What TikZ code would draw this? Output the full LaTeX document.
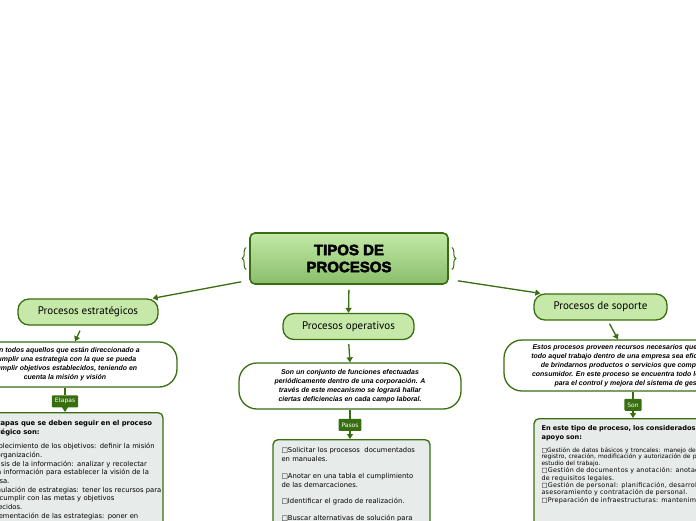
\documentclass[tikz,border=0pt]{standalone}
\usepackage{fontspec}
\setmainfont{DejaVu Sans}
\newfontfamily\notefont{Liberation Sans}
\newfontfamily\topicfont{PT Sans}
\newfontfamily\titlefont[BoldFeatures={FakeBold=3}]{Liberation Sans}
\usetikzlibrary{positioning, arrows.meta, decorations.pathreplacing}
\definecolor{mmgreen}{HTML}{376E10}
\definecolor{topicgreen}{HTML}{C6E9AA}
\definecolor{maintop}{HTML}{C2EAA5}
\definecolor{mainbottom}{HTML}{89BD6B}
\definecolor{detailgray}{HTML}{E7ECEA}
\tikzset{
    mainidea/.style={
        draw=mmgreen, line width=1.6pt, rounded corners=5pt, top color=maintop, bottom color=mainbottom,
        minimum width=198pt, minimum height=51pt, align=center, font=\titlefont\bfseries\fontsize{15}{17}\selectfont
    },
    topic/.style={draw=mmgreen, line width=1.3pt, rounded corners=11pt, fill=topicgreen, minimum height=26pt, font=\topicfont\fontsize{11}{12}\selectfont},
    note/.style={draw=mmgreen, line width=1.3pt, rounded corners=18pt, fill=white, align=center, font=\notefont\bfseries\itshape\fontsize{6.95}{9}\selectfont},
    tag/.style={fill=mmgreen, text=white, rounded corners=1pt, inner xsep=3pt, inner ysep=0pt, minimum height=12pt, font=\fontsize{6}{7}\selectfont},
    detailbox/.style={draw=mmgreen, line width=1.3pt, rounded corners=5pt, fill=detailgray, anchor=north, minimum height=200pt},
    detailtext/.style={anchor=north west, inner sep=0pt, align=left, text width=300pt, font=\fontsize{6.8}{8.7}\selectfont},
    link/.style={draw=mmgreen, line width=1.3pt, -{Triangle[length=5pt, width=6pt]}},
    stem/.style={draw=mmgreen, line width=1.3pt},
    handle/.style={draw=mmgreen, line width=1pt, decorate, decoration={brace, amplitude=4pt}}
}
\begin{document}
\begin{tikzpicture}[x=1pt, y=-1pt]
    \useasboundingbox (0,0) rectangle (696,520);
    \clip (0,0) rectangle (696,520);

    \node[mainidea] (main) at (349,258.5) {TIPOS DE\\PROCESOS};
    \draw[handle] ([xshift=-3pt, yshift=-11pt]main.west) -- ([xshift=-3pt, yshift=11pt]main.west);
    \draw[handle] ([xshift=3pt, yshift=11pt]main.east) -- ([xshift=3pt, yshift=-11pt]main.east);

    \node[topic, minimum width=140pt] (estr) at (88,312) {Procesos estratégicos};
    \node[topic, minimum width=131pt] (oper) at (348.5,326.5) {Procesos operativos};
    \node[topic, minimum width=133pt] (sop) at (600.5,307) {Procesos de soporte};

    \node[note, minimum width=224pt, minimum height=45pt] (estrnote) at (65,364.5) {Son todos aquellos que están direccionado a\\cumplir una estrategia con la que se pueda\\cumplir objetivos establecidos, teniendo en\\cuenta la misión y visión};
    \node[note, minimum width=222pt, minimum height=46pt] (opernote) at (350,386) {Son un conjunto de funciones efectuadas\\periódicamente dentro de una corporación. A\\través de este mecanismo se logrará hallar\\ciertas deficiencias en cada campo laboral.};
    \node[note, minimum width=258pt, minimum height=51pt] (sopnote) at (633,365.5) {Estos procesos proveen recursos necesarios que hacen que\\todo aquel trabajo dentro de una empresa sea eficaz, además\\de brindarnos productos o servicios que complazcan al\\consumidor. En este proceso se encuentra todo lo necesario\\para el control y mejora del sistema de gestión.};

    \node[tag, below=7.5pt of estrnote] (etapas) {Etapas};
    \node[tag, below=9pt of opernote] (pasos) {Pasos};
    \node[tag, below=7pt of sopnote] (son) {Son};

    \node[detailbox, minimum width=199pt] (estrbox) at (63.5,412) {};
    \node[detailbox, minimum width=157pt] (operbox) at (351.5,439) {};
    \node[detailbox, minimum width=256pt] (sopbox) at (662,418) {};

    \node[detailtext] (estrlist) at ([xshift=14pt, yshift=-8pt]estrbox.north west) {%
        \textbf{Las etapas que se deben seguir en el proceso}\\
        \textbf{estratégico son:}\\[6pt]
        □Establecimiento de los objetivos: definir la misión\\
        de la organización.\\
        □Análisis de la información: analizar y recolectar\\
        toda la información para establecer la visión de la\\
        empresa.\\
        □Formulación de estrategias: tener los recursos para\\
        poder cumplir con las metas y objetivos\\
        establecidos.\\
        □Implementación de las estrategias: poner en};
    \node[detailtext, font=\fontsize{6.8}{9}\selectfont] (operlist) at ([xshift=9pt, yshift=-8pt]operbox.north west) {%
        □Solicitar los procesos\ \ documentados\\
        en manuales.\\[8pt]
        □Anotar en una tabla el cumplimiento\\
        de las demarcaciones.\\[7pt]
        □Identificar el grado de realización.\\[8pt]
        □Buscar alternativas de solución para};
    \node[detailtext, font=\fontsize{6.4}{7.3}\selectfont\addfontfeature{LetterSpace=4}] (soplist) at ([xshift=8pt, yshift=-7.5pt]sopbox.north west) {%
        {\bfseries\fontsize{6.6}{9}\selectfont\addfontfeature{LetterSpace=0} En este tipo de proceso, los considerados de soporte o\\apoyo son:\par}
        \vspace{6pt}
        {\fontsize{6}{6.6}\selectfont\addfontfeature{LetterSpace=0}□Gestión de datos básicos y troncales: manejo del\\
        registro, creación, modificación y autorización de procesos y\\
        estudio del trabajo.\par}
        □Gestión de documentos y anotación: anotación\\
        de requisitos legales.\\
        □Gestión de personal: planificación, desarrollo,\\
        asesoramiento y contratación de personal.\\
        □Preparación de infraestructuras: mantenimiento};

    \draw[link] ([xshift=-8pt, yshift=3pt]main.south west) -- ([xshift=-6pt]estr.north east);
    \draw[link, shorten <=5pt] (main.south) -- (oper.north);
    \draw[link] ([xshift=9pt, yshift=4pt]main.south east) -- ([xshift=7pt]sop.north west);

    \draw[link] ([xshift=-8pt, yshift=-5pt]estr.south) -- ([xshift=10pt]estrnote.north);
    \draw[link, shorten <=4pt] (oper.south) -- (opernote.north);
    \draw[link] ([xshift=9pt, yshift=-3pt]sop.south) -- ([xshift=-15pt]sopnote.north);

    \draw[stem] (estrnote.south) -- (etapas.north);
    \draw[stem] (opernote.south) -- (pasos.north);
    \draw[stem] (sopnote.south) -- (son.north);
    \draw[link] (etapas.south) -- (etapas.south |- estrbox.north);
    \draw[link] (pasos.south) -- (pasos.south |- operbox.north);
    \draw[link] (son.south) -- (son.south |- sopbox.north);
\end{tikzpicture}
\end{document}
